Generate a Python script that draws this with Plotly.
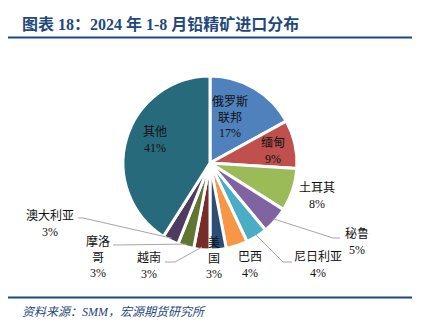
import math
import plotly.graph_objects as go

# Lead concentrate imports by origin, Jan-Aug 2024 (share, %)
countries = ["俄罗斯联邦", "缅甸", "土耳其", "秘鲁", "尼日利亚", "巴西",
             "美国", "越南", "摩洛哥", "澳大利亚", "其他"]
shares = [17, 9, 8, 5, 4, 4, 3, 3, 3, 3, 41]

# Label text as it is broken across lines
label_names = ["俄罗斯<br>联邦", "缅甸", "土耳其", "秘鲁", "尼日利亚", "巴西",
               "美<br>国", "越南", "摩洛<br>哥", "澳大利亚", "其他"]

slice_colors = ["#4F81BD", "#C0504D", "#9BBB59", "#8064A2", "#4BACC6", "#F79646",
                "#2C4D75", "#772C2A", "#5F7530", "#4D3B62", "#276A7C"]

W, H = 422, 335
CX, CY, R = 210, 163, 87  # pie centre and radius in pixels

# Label block centres (pixels) for each slice
label_pos = {
    "俄罗斯联邦": (230, 118), "缅甸": (273, 151), "土耳其": (317, 196),
    "秘鲁": (357, 242), "尼日利亚": (318, 265), "巴西": (250, 265),
    "美国": (214, 258), "越南": (149, 265), "摩洛哥": (98, 257),
    "澳大利亚": (50, 224), "其他": (155, 140),
}
# Leader-line bends (pixels): elbow then end next to the label
leaders = {
    "秘鲁": [(333, 238), (340, 238)],
    "尼日利亚": [(283, 262), (292, 262)],
    "越南": [(175, 262), (165, 262)],
    "摩洛哥": [(118, 245), (113, 245)],
    "澳大利亚": [(83, 218), (78, 218)],
}


def px(x, y):
    return x / W, 1 - y / H


fig = go.Figure(go.Pie(
    labels=countries, values=shares, sort=False, direction="clockwise",
    rotation=0, textinfo="none", hoverinfo="label+percent",
    marker=dict(colors=slice_colors, line=dict(color="white", width=3)),
    domain=dict(x=[(CX - R) / W, (CX + R) / W],
                y=[(H - CY - R) / H, (H - CY + R) / H]),
    showlegend=False,
))

annotations = []
shapes = []
total = sum(shares)
cum = 0
for name, lab, v in zip(countries, label_names, shares):
    mid = (cum + v / 2) / total * 2 * math.pi
    cum += v
    x, y = label_pos[name]
    ax, ay = px(x, y)
    annotations.append(dict(
        x=ax, y=ay, xref="paper", yref="paper", showarrow=False,
        xanchor="center", yanchor="middle", align="center",
        text=f"{lab}<br>{v}%",
        font=dict(family="Liberation Serif, Noto Sans CJK SC", size=12, color="#111111"),
    ))
    if name in leaders:
        sx = CX + math.sin(mid) * R * 0.97
        sy = CY - math.cos(mid) * R * 0.97
        pts = [(sx, sy)] + leaders[name]
        path = "M " + " L ".join(f"{px(a, b)[0]:.4f} {px(a, b)[1]:.4f}" for a, b in pts)
        shapes.append(dict(type="path", xref="paper", yref="paper", path=path,
                           line=dict(color="#A6A6A6", width=1)))

# Header and footer rules
for yy in (37.5, 297.5):
    shapes.append(dict(type="line", xref="paper", yref="paper",
                       x0=8 / W, x1=412 / W, y0=1 - yy / H, y1=1 - yy / H,
                       line=dict(color="#1F497D", width=2)))

annotations.append(dict(
    x=20 / W, y=1 - 24 / H, xref="paper", yref="paper", showarrow=False,
    xanchor="left", yanchor="middle",
    text="<b>图表 18：2024 年 1-8 月铅精矿进口分布</b>",
    font=dict(family="Liberation Serif, Noto Sans CJK SC", size=16, color="#1F497D"),
))
annotations.append(dict(
    x=20 / W, y=1 - 312 / H, xref="paper", yref="paper", showarrow=False,
    xanchor="left", yanchor="middle",
    text="<i>资料来源：SMM，宏源期货研究所</i>",
    font=dict(family="Liberation Serif, Noto Sans CJK SC", size=12, color="#1F497D"),
))

fig.update_layout(
    width=W, height=H, margin=dict(l=0, r=0, t=0, b=0),
    paper_bgcolor="white", plot_bgcolor="white",
    annotations=annotations, shapes=shapes,
)

fig.write_html("out.html")
